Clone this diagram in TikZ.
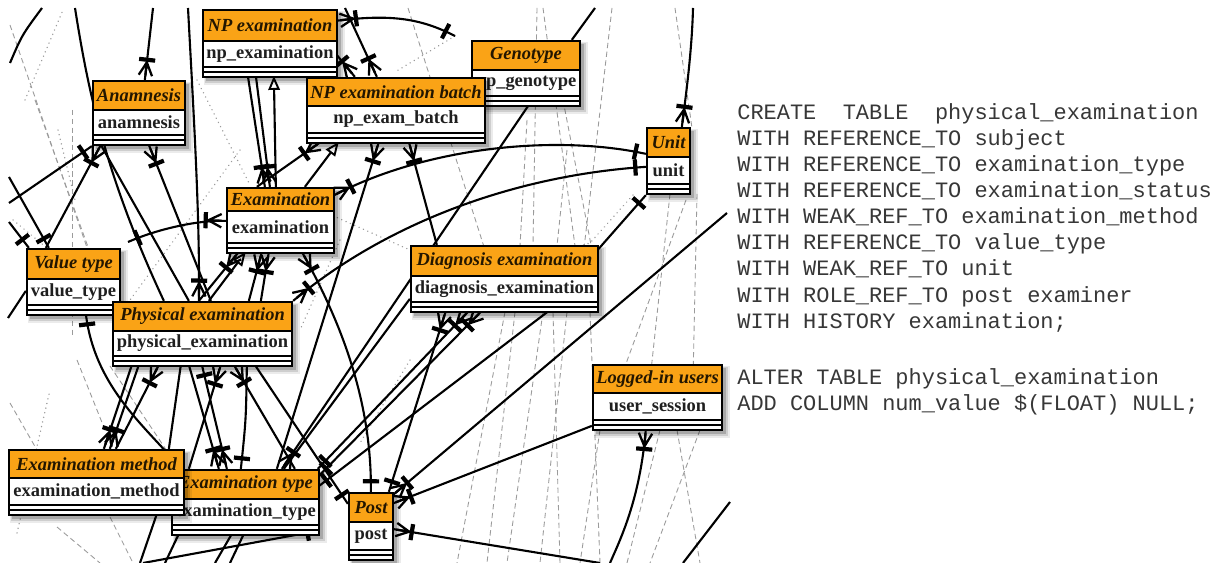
\documentclass[tikz,border=0pt]{standalone}
\usepackage{fontspec}
\setmainfont{Liberation Serif}
\newfontfamily\sqlfont{Liberation Mono}
\usetikzlibrary{calc,fit,arrows.meta,decorations.markings}
\pgfdeclarelayer{bg}
\pgfdeclarelayer{lines}
\pgfsetlayers{bg,lines,main}
\definecolor{heador}{RGB}{250,163,22}
\definecolor{titletext}{RGB}{35,22,0}
\definecolor{sqltext}{RGB}{55,55,55}
\definecolor{dashgrey}{RGB}{155,155,155}
\tikzset{
  conn/.style={line width=1.2pt,black},
  dsh/.style={dashgrey,line width=.5pt,dash pattern=on 3pt off 2pt},
  dotl/.style={dashgrey,line width=.8pt,dash pattern=on .1pt off 2.6pt,line cap=round},
  cfE/.style={postaction={decorate,decoration={markings,mark=at position 0.9999 with {\draw[line width=1.3pt] (-10pt,0)--(-2.5pt,3.8pt) (-10pt,0)--(-2.5pt,0) (-10pt,0)--(-2.5pt,-3.8pt); \draw[line width=2.4pt] (-11.5pt,-4.6pt)--(-11.5pt,4.6pt);}}}},
  cfS/.style={postaction={decorate,decoration={markings,mark=at position 0.0001 with {\draw[line width=1.3pt] (10pt,0)--(2.5pt,3.8pt) (10pt,0)--(2.5pt,0) (10pt,0)--(2.5pt,-3.8pt); \draw[line width=2.4pt] (11.5pt,-4.6pt)--(11.5pt,4.6pt);}}}},
  barE/.style={postaction={decorate,decoration={markings,mark=at position 0.9999 with {\draw[line width=2.4pt] (-6pt,-4.6pt)--(-6pt,4.6pt);}}}},
  barS/.style={postaction={decorate,decoration={markings,mark=at position 0.0001 with {\draw[line width=2.4pt] (6pt,-4.6pt)--(6pt,4.6pt);}}}},
  opentri/.style={-{Triangle[open,length=8pt,width=6.5pt,line width=1.1pt]}},
  titlef/.style={inner sep=0pt,font=\fontsize{10.5}{12}\selectfont\bfseries\itshape,text=titletext},
  labelf/.style={inner sep=0pt,font=\fontsize{10.5}{12}\selectfont\bfseries,text=black!88},
  sql/.style={inner sep=0pt,anchor=base west,font=\sqlfont\fontsize{12.5}{14.8}\selectfont,text=sqltext},
  entframe/.style={draw,line width=1.3pt,inner sep=0pt},
}
% name, x1, y1, x2, y2, header bottom, title, label
\newcommand\entity[8]{%
  \fill[black,opacity=.08] (#2+1,#3+1) rectangle (#4+8,#5+8);
  \fill[black,opacity=.12] (#2+2,#3+2) rectangle (#4+6,#5+6);
  \fill[black,opacity=.18] (#2+3,#3+3) rectangle (#4+4,#5+4);
  \fill[white] (#2,#3) rectangle (#4,#5);
  \fill[heador] (#2,#3) rectangle (#4,#6);
  \draw[line width=.8pt] (#2,#6) -- (#4,#6);
  \draw[line width=.6pt] (#2,#5-10) -- (#4,#5-10) (#2,#5-5) -- (#4,#5-5);
  \node[titlef] (#1-t) at ({(#2+#4)/2},{(#3+#6)/2}) {#7};
  \node[labelf] (#1-l) at ({(#2+#4)/2},{(#6+#5-10)/2}) {#8};
  \node[entframe,fit={(#2,#3) (#4,#5)}] (#1) {};
}
\begin{document}
\begin{tikzpicture}[x=0.02cm,y=-0.02cm]
\useasboundingbox (0,0) rectangle (1220,563);
\begin{pgfonlayer}{bg}
\fill[white] (0,0) rectangle (1220,563);
% dashed background lines
\draw[dsh] (10,25) -- (92,262);
\draw[dsh] (35,100) -- (92,258);
\draw[dsh] (72,110) -- (72,335);
\draw[dsh] (10,403) -- (37,450);
\draw[dsh] (77,360) -- (113,450);
\draw[dsh] (110,366) -- (173,460);
\draw[dsh] (57,527) -- (100,563);
\draw[dsh] (110,517) -- (133,563);
\draw[dsh] (408,8) -- (485,250);
\draw[dsh] (537,8) -- (533,246);
\draw[dsh] (543,8) -- (575,246);
\draw[dsh] (612,8) -- (578,300);
\draw[dsh] (563,100) -- (592,250);
\draw[dsh] (527,120) -- (520,246);
\draw[dsh] (567,150) -- (557,246);
\draw[dsh] (675,8) -- (692,128);
\draw[dsh] (686,200) -- (620,380);
\draw[dsh] (697,194) -- (693,380);
\draw[dsh] (670,194) -- (650,380);
\draw[dsh] (505,312) -- (457,563);
\draw[dsh] (515,312) -- (487,563);
\draw[dsh] (543,312) -- (507,563);
\draw[dsh] (553,312) -- (560,563);
\draw[dsh] (567,312) -- (540,563);
\draw[dsh] (590,312) -- (600,563);
\draw[dsh] (600,430) -- (580,563);
\draw[dsh] (660,430) -- (627,563);
\draw[dsh] (677,430) -- (700,563);
\draw[dsh] (700,430) -- (650,563);
\draw[dsh] (620,380) -- (613,430);
\draw[dsh] (693,380) -- (700,430);
% dotted background lines
\draw[dotl] (455,36) -- (395,72);
\draw[dotl] (25,100) -- (63,10);
\draw[dotl] (58,130) -- (75,200);
\draw[dotl] (633,195) -- (590,243) -- (567,250);
\draw[dotl] (240,150) -- (130,300);
\draw[dotl] (197,80) -- (250,185);
\draw[dotl] (320,210) -- (410,250);
\draw[dotl] (13,220) -- (110,300);
\draw[dotl] (17,533) -- (50,390);
\draw[dotl] (410,360) -- (360,443);
\draw[dotl] (340,240) -- (300,330);
\end{pgfonlayer}

% entities
\entity{np}{203}{10}{337}{77}{41}{NP examination}{np\_examination}
\entity{ge}{472}{41}{580}{106}{70}{Genotype}{np\_genotype}
\entity{nb}{307}{78}{485}{143}{106}{NP examination batch}{np\_exam\_batch}
\entity{an}{93}{81}{185}{145}{110}{Anamnesis}{anamnesis}
\entity{un}{647}{128}{690}{194}{157}{Unit}{unit}
\entity{ex}{227}{188}{334}{253}{211}{Examination}{examination}
\entity{vt}{27}{249}{120}{315}{279}{Value type}{value\_type}
\entity{de}{411}{246}{598}{312}{276}{Diagnosis examination}{diagnosis\_examination}
\entity{pe}{113}{302}{292}{366}{331}{Physical examination}{physical\_examination}
\entity{lu}{593}{365}{722}{430}{393}{Logged-in users}{user\_session}
\entity{et}{172}{470}{319}{535}{499}{Examination type}{examination\_type}
\entity{em}{9}{450}{184}{515}{478}{Examination method}{examination\_method}
\entity{po}{349}{493}{393}{560}{522}{Post}{post}

% free ends
\coordinate (t1) at (10,63);
\coordinate (t2) at (42,8);
\coordinate (t3) at (153,8);
\coordinate (t4) at (75,8);
\coordinate (t5) at (188,8);
\coordinate (t6) at (9,203);
\coordinate (t7) at (9,177);
\coordinate (t8) at (9,222);
\coordinate (t9) at (8,318);
\coordinate (t10) at (128,242);
\coordinate (t11) at (345,8);
\coordinate (t12) at (455,36);
\coordinate (t13) at (595,8);
\coordinate (t14) at (693,8);
\coordinate (t15) at (727,213);
\coordinate (t16) at (610,563);
\coordinate (t17) at (600,563);
\coordinate (t18) at (730,502);
\coordinate (t19) at (683,563);
\coordinate (t20) at (140,563);
\coordinate (t21) at (165,563);
\coordinate (t22) at (230,563);
\coordinate (t23) at (143,563);
\coordinate (t24) at (215,563);

\begin{pgfonlayer}{lines}
\draw[conn] (t1) .. controls (22,35) .. (t2);
\draw[conn,cfE] (t3) -- ($(an.north west)+(53,0)$);
\draw[conn] (t4) .. controls (88,90) and (105,175) .. ($(pe.north west)+(52,0)$);
\draw[conn,cfS] ($(an.north west)+(9,65)$) -- ($(vt.north west)+(20,0)$);
\draw[conn] ($(an.north west)+(9,65)$) -- ($(pe.north west)+(77,0)$);
\draw[conn,cfS] ($(an.north west)+(57,65)$) -- ($(pe.north west)+(99,0)$);
\draw[conn,cfE] (t5) .. controls (194,120) and (200,220) .. ($(pe.north west)+(87,0)$);
\draw[conn,barE] (t6) -- (an.south west);
\draw[conn,barE] (t7) -- ($(vt.north west)+(23,0)$);
\draw[conn,barE] (t8) -- ($(vt.north west)+(3,0)$);
\draw[conn] ($(vt.north west)+(0,43)$) -- (t9);
\draw[conn,barS,cfE] (t10) .. controls (160,228) and (200,220) .. ($(ex.north west)+(0,34)$);
\draw[conn,cfE] ($(np.north west)+(46,67)$) -- ($(ex.north west)+(39,0)$);
\draw[conn,cfE] ($(np.north west)+(54,67)$) -- ($(ex.north west)+(44,0)$);
\draw[conn,opentri] ($(ex.north west)+(50,0)$) -- ($(np.north west)+(72,67)$);
\draw[conn,cfE] ($(ex.north west)+(31,0)$) -- ($(nb.north west)+(15,65)$);
\draw[conn,opentri] ($(ex.north west)+(79,0)$) -- ($(nb.north west)+(33,65)$);
\draw[conn,cfE] ($(np.north west)+(134,45)$) -- ($(nb.north west)+(49,0)$);
\draw[conn,cfE] (t11) -- ($(nb.north west)+(71,0)$);
\draw[conn,cfS,barE] ($(np.north west)+(134,12)$) .. controls (390,14) and (420,18) .. (t12);
\draw[conn] (t13) -- ($(ge.north west)+(101,0)$);
\draw[conn,cfE] ($(ge.north west)+(58,65)$) -- ($(et.north west)+(111,0)$);
\draw[conn,cfS] ($(nb.north west)+(73,65)$) -- ($(et.north west)+(106,0)$);
\draw[conn,cfS] ($(nb.north west)+(103,65)$) -- ($(de.north west)+(27,0)$);
\draw[conn,cfE] (t14) .. controls (692,50) and (686,95) .. ($(un.north west)+(36,0)$);
\draw[conn,cfS,barE] ($(ex.north west)+(107,9)$) .. controls (430,145) and (560,135) .. ($(un.north west)+(0,27)$);
\draw[conn,cfS,barE] (pe.north east) .. controls (390,220) and (520,175) .. ($(un.north west)+(0,40)$);
\draw[conn,barS] (un.south west) -- ($(de.north west)+(187,6)$);
\draw[conn,cfE] (t15) -- ($(po.north west)+(44,4)$);
\draw[conn,cfE] ($(lu.north west)+(0,62)$) -- ($(po.north west)+(44,12)$);
\draw[conn,cfS] ($(lu.north west)+(54,65)$) .. controls (640,500) and (620,540) .. (t16);
\draw[conn,cfS] ($(po.north west)+(44,37)$) -- (t17);
\draw[conn] (t18) -- (t19);
\draw[conn,cfS,barE] ($(ex.north west)+(76,65)$) .. controls (340,320) and (372,400) .. ($(po.north west)+(23,0)$);
\draw[conn,cfS,barE] ($(de.north west)+(36,66)$) -- ($(po.north west)+(41,0)$);
\draw[conn,cfS,barE] ($(de.north west)+(59,66)$) -- ($(et.north west)+(147,0)$);
\draw[conn,cfS,barE] ($(de.north west)+(72,66)$) -- ($(et.north west)+(147,8)$);
\draw[conn,barE] ($(de.north west)+(139,66)$) -- ($(et.north west)+(147,18)$);
\draw[conn] ($(de.north west)+(0,54)$) -- ($(et.north west)+(113,0)$);
\draw[conn,cfS] ($(ex.north west)+(13,65)$) -- ($(pe.north west)+(87,0)$);
\draw[conn,opentri] ($(pe.north west)+(97,0)$) -- ($(ex.north west)+(20,65)$);
\draw[conn,cfS] ($(ex.north west)+(36,65)$) -- ($(pe.north west)+(137,0)$);
\draw[conn,cfS] ($(ex.north west)+(43,65)$) -- ($(pe.north west)+(149,0)$);
\draw[conn,cfE] ($(pe.north west)+(20,64)$) -- ($(em.north west)+(96,0)$);
\draw[conn,cfE] ($(pe.north west)+(27,64)$) -- ($(em.north west)+(102,0)$);
\draw[conn,cfS] ($(pe.north west)+(47,64)$) -- ($(em.north west)+(108,0)$);
\draw[conn] ($(pe.north west)+(69,64)$) -- ($(em.north west)+(161,0)$);
\draw[conn,cfE] ($(pe.north west)+(77,64)$) -- ($(et.north west)+(48,0)$);
\draw[conn,barS,cfE] ($(pe.north west)+(90,64)$) -- ($(et.north west)+(56,0)$);
\draw[conn,cfS] ($(pe.north west)+(109,64)$) -- ($(et.north west)+(18,0)$);
\draw[conn,cfS] ($(pe.north west)+(122,64)$) -- ($(et.north west)+(124,0)$);
\draw[conn,barE] ($(pe.north west)+(135,64)$) .. controls (246,420) .. ($(et.north west)+(70,0)$);
\draw[conn,barE] ($(pe.north west)+(143,64)$) -- ($(po.north west)+(0,12)$);
\draw[conn,barS] ($(vt.north west)+(60,66)$) .. controls (95,390) and (150,430) .. ($(et.north west)+(10,0)$);
\draw[conn] (t20) -- ($(em.north west)+(149,65)$);
\draw[conn] (t21) -- ($(et.north west)+(8,65)$);
\draw[conn] (t22) -- ($(et.north west)+(73,65)$);
\draw[conn,barE] (t23) -- ($(et.north west)+(147,62)$);
\draw[conn] (t24) -- ($(et.north west)+(61,65)$);
\end{pgfonlayer}

% SQL text
\node[sql] (s1) at (737,120) {CREATE\ \ TABLE\ \ physical\_examination};
\node[sql] (s2) at (737,146) {WITH REFERENCE\_TO subject};
\node[sql] (s3) at (737,172) {WITH REFERENCE\_TO examination\_type};
\node[sql] (s4) at (737,198) {WITH REFERENCE\_TO examination\_status};
\node[sql] (s5) at (737,224) {WITH WEAK\_REF\_TO examination\_method};
\node[sql] (s6) at (737,250) {WITH REFERENCE\_TO value\_type};
\node[sql] (s7) at (737,276) {WITH WEAK\_REF\_TO unit};
\node[sql] (s8) at (737,303) {WITH ROLE\_REF\_TO post examiner};
\node[sql] (s9) at (737,329) {WITH HISTORY examination;};
\node[sql] (s10) at (737,385) {ALTER TABLE physical\_examination};
\node[sql] (s11) at (737,411) {ADD COLUMN num\_value \$(FLOAT) NULL;};
\end{tikzpicture}
\end{document}
